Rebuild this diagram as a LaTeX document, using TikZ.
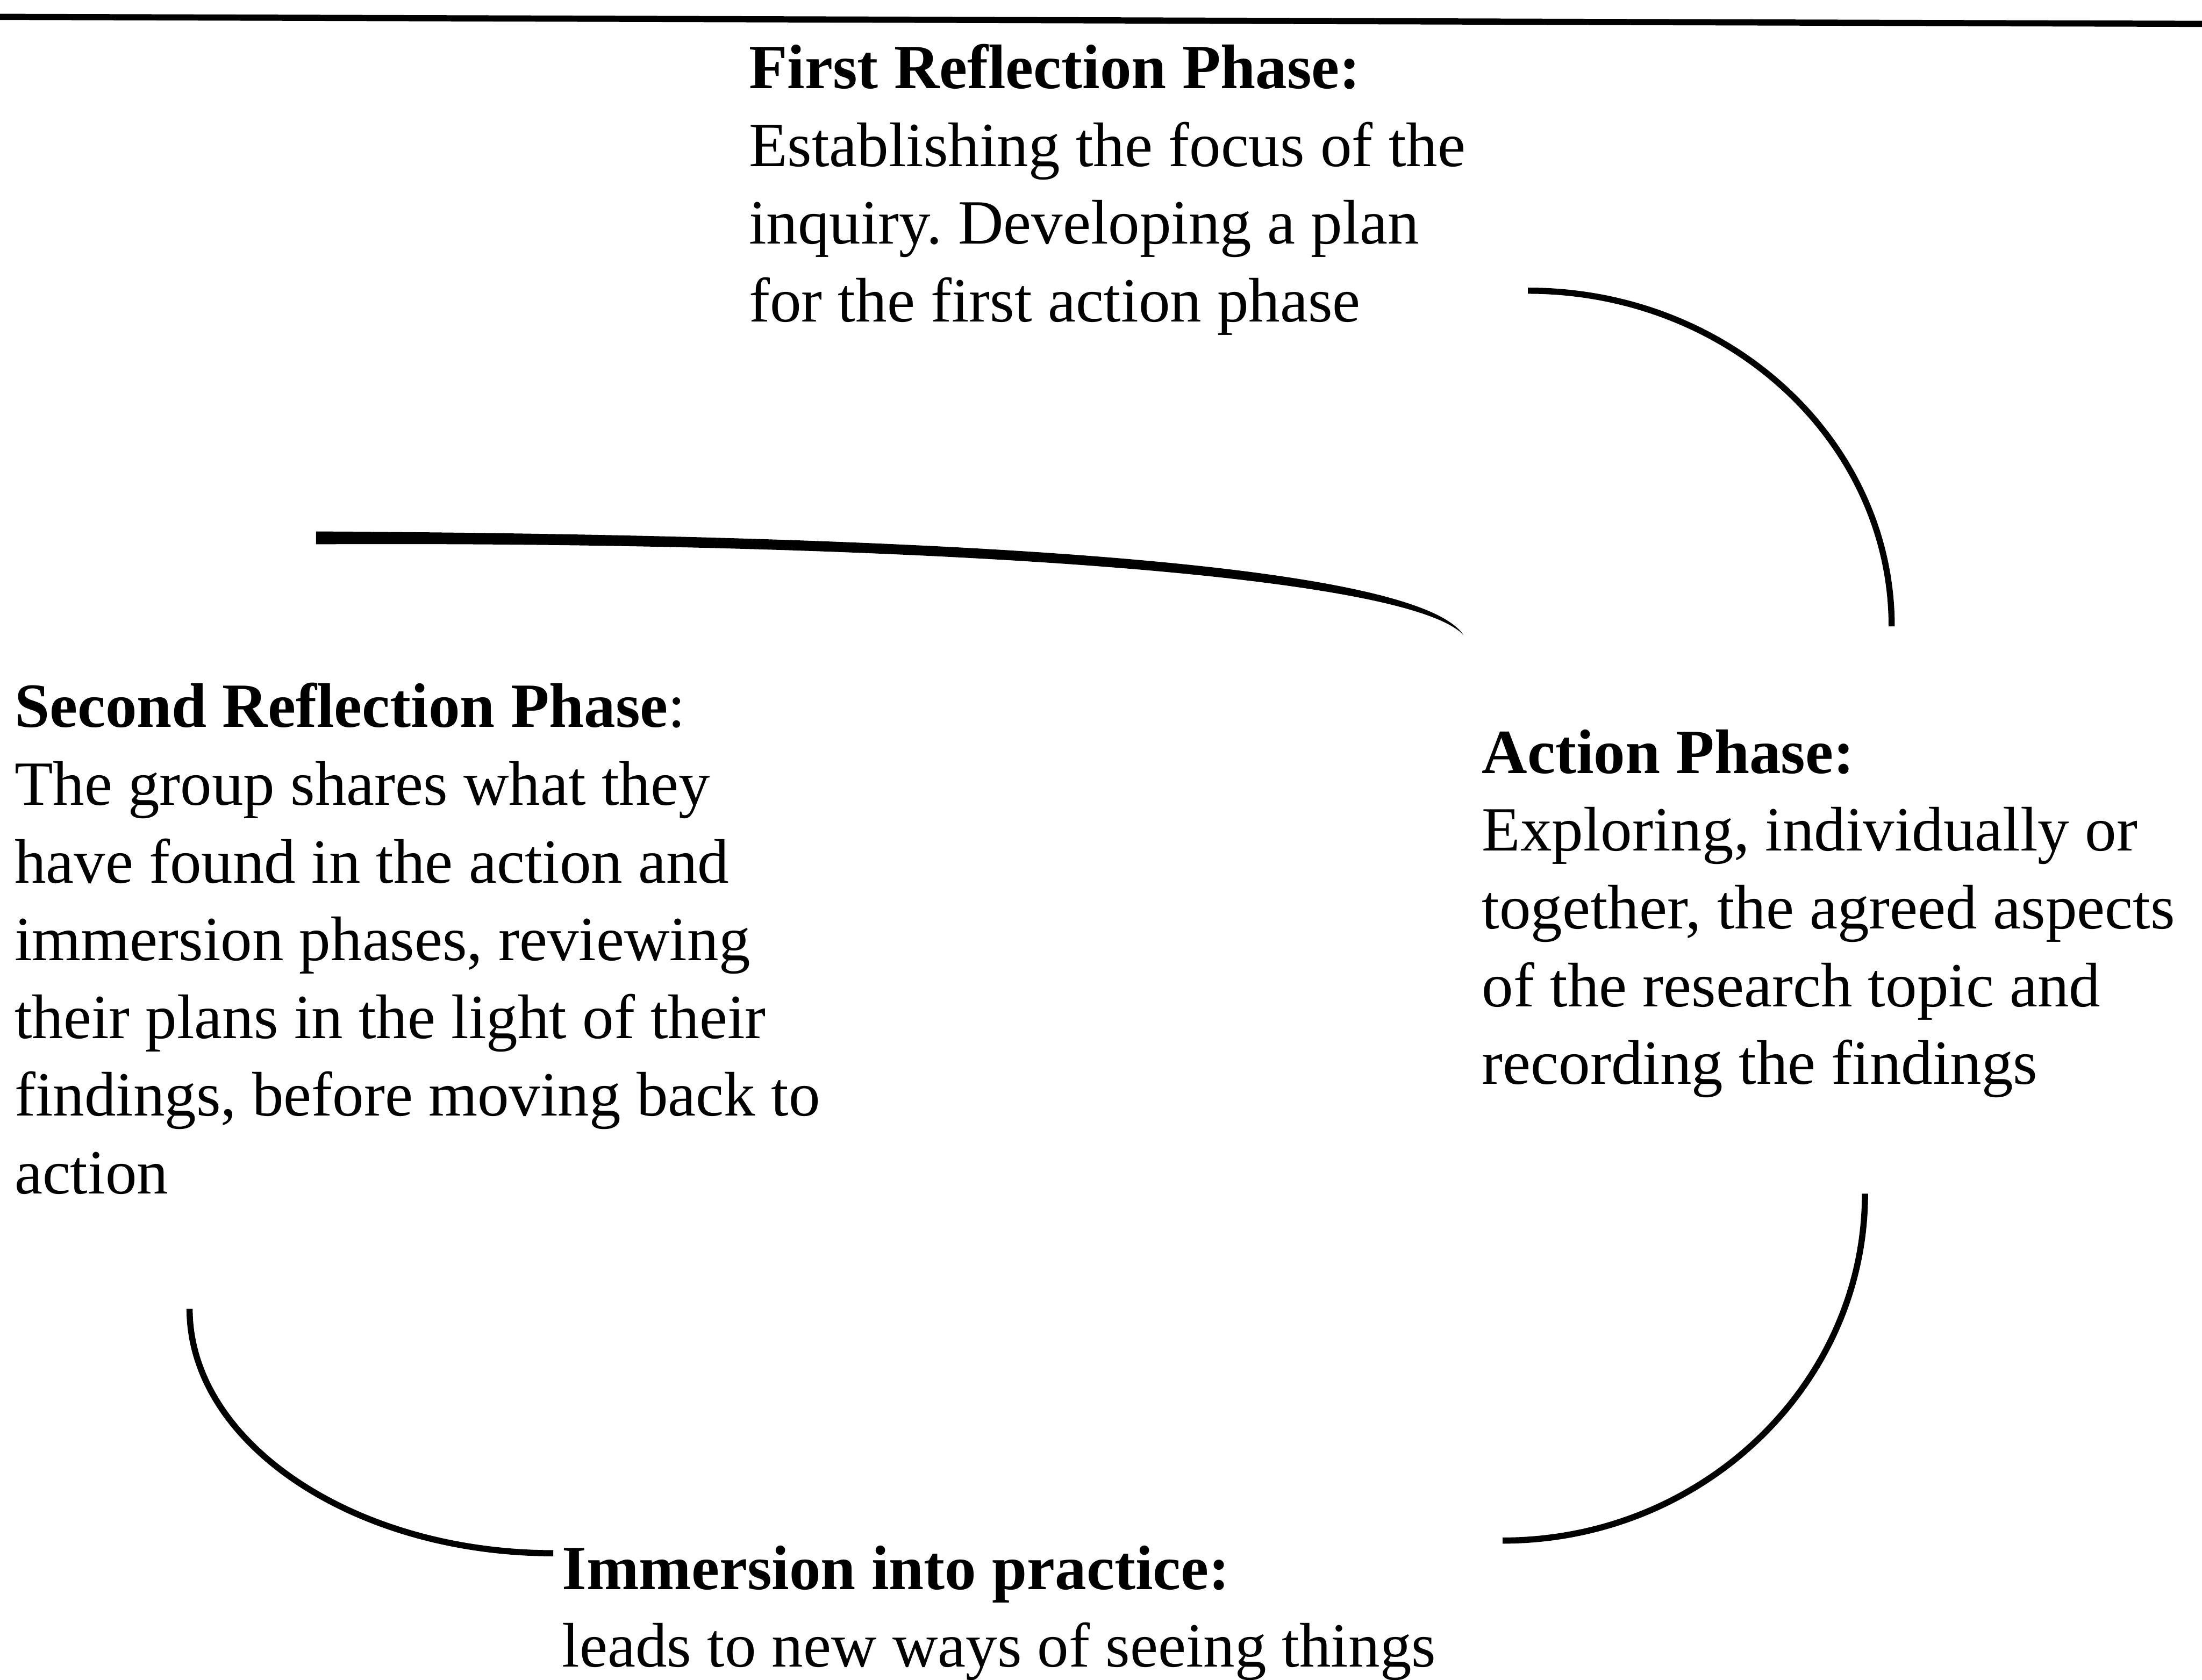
\documentclass[tikz,border=0pt]{standalone}
\usepackage{fontspec}
\setmainfont{Liberation Serif}
\frenchspacing
\begin{document}
\begin{tikzpicture}[x=0.02cm,y=-0.02cm,
  cycleline/.style={line width=2.5pt},
  % multi-line nodes sit on the baseline of their last line
  phasetext/.style={anchor=base west, inner sep=0pt, align=left,
    font=\fontsize{25.5}{31.5}\selectfont}]
\useasboundingbox (0,0) rectangle (1568,1196);

% rule across the top
\coordinate (rule-l) at (0,12);
\coordinate (rule-r) at (1568,17);
\draw[cycleline] (rule-l) -- (rule-r);

% phase descriptions
\node[phasetext] (first) at (533,229) {\textbf{First Reflection Phase:}\\
  Establishing the focus of the\\
  inquiry. Developing a plan\\
  for the first action phase};

\node[phasetext] (second) at (10,850) {\textbf{Second Reflection Phase}:\\
  The group shares what they\\
  have found in the action and\\
  immersion phases, reviewing\\
  their plans in the light of their\\
  findings, before moving back to\\
  action};

\node[phasetext] (action) at (1055,772) {\textbf{Action Phase:}\\
  Exploring, individually or\\
  together, the agreed aspects\\
  of the research topic and\\
  recording the findings};

\node[phasetext] (immersion) at (400,1187) {\textbf{Immersion into practice:}\\
  leads to new ways of seeing things};

% arc from the first reflection down to the action phase
\coordinate (fr-end) at (1088,207);
\coordinate (ac-top) at (1347,446);
\draw[cycleline] (fr-end) .. controls +(143,0) and +(0,-132) .. (ac-top);

% arc from the action phase down to immersion
\coordinate (ac-bottom) at (1328,850);
\coordinate (im-right) at (1070,1097);
\draw[cycleline] (ac-bottom) .. controls +(0,136) and +(142,0) .. (im-right);

% arc from the second reflection down to immersion
\coordinate (sr-bottom) at (135,932);
\coordinate (im-left) at (394,1106);
\draw[cycleline] (sr-bottom) .. controls +(0,96) and +(-141,0) .. (im-left);

% tapering stroke from the second reflection back towards action
\coordinate (sr-top) at (225,383);
\coordinate (ac-tip) at (1042,452);
\fill ([yshift=2.6]sr-top) .. controls (600,380.5) and (1003,395) .. (ac-tip)
  .. controls (996,405) and (600,385.5) .. ([yshift=-2.6]sr-top) -- cycle;
\end{tikzpicture}
\end{document}
